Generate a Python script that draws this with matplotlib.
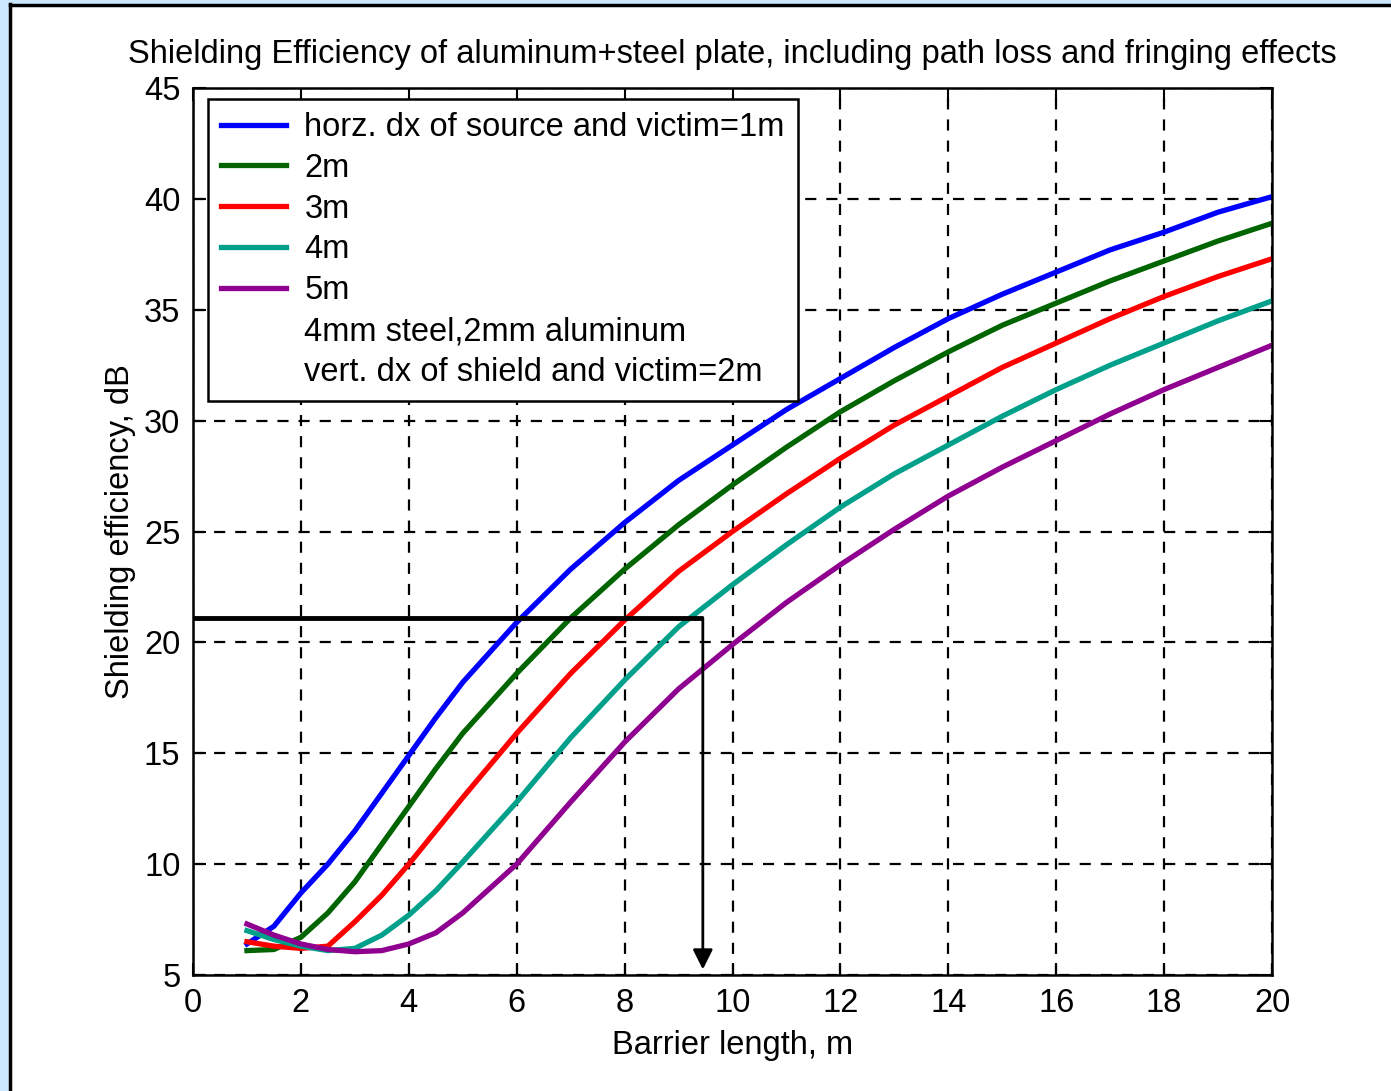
import matplotlib
matplotlib.use('Agg')
from matplotlib import pyplot as plt
from matplotlib.lines import Line2D
from matplotlib.patches import Rectangle

# Data
barrier_length = [1, 1.5, 2, 2.5, 3, 3.5, 4, 4.5, 5, 6, 7, 8, 9, 10,
                  11, 12, 13, 14, 15, 16, 17, 18, 19, 20]
se_1m = [6.4, 7.2, 8.7, 10.0, 11.5, 13.2, 14.9, 16.6, 18.2, 20.9, 23.3, 25.4, 27.3, 28.9,
         30.5, 31.9, 33.3, 34.6, 35.7, 36.7, 37.7, 38.5, 39.4, 40.1]
se_2m = [6.1, 6.15, 6.7, 7.8, 9.2, 10.9, 12.6, 14.3, 15.9, 18.6, 21.1, 23.3, 25.3, 27.1,
         28.8, 30.4, 31.8, 33.1, 34.3, 35.3, 36.3, 37.2, 38.1, 38.9]
se_3m = [6.5, 6.3, 6.2, 6.3, 7.4, 8.6, 10.0, 11.5, 13.0, 15.9, 18.6, 21.0, 23.2, 25.0,
         26.7, 28.3, 29.8, 31.1, 32.4, 33.5, 34.6, 35.6, 36.5, 37.3]
se_4m = [7.0, 6.6, 6.3, 6.1, 6.2, 6.8, 7.7, 8.8, 10.1, 12.8, 15.7, 18.3, 20.7, 22.6,
         24.4, 26.1, 27.6, 28.9, 30.2, 31.4, 32.5, 33.5, 34.5, 35.4]
se_5m = [7.3, 6.8, 6.4, 6.15, 6.05, 6.1, 6.4, 6.9, 7.8, 10.0, 12.8, 15.5, 17.9, 19.9,
         21.8, 23.5, 25.1, 26.6, 27.9, 29.1, 30.3, 31.4, 32.4, 33.4]

series = [se_1m, se_2m, se_3m, se_4m, se_5m]
labels = ['horz. dx of source and victim=1m', '2m', '3m', '4m', '5m']
colors = ['#0000ff', '#006400', '#ff0000', '#00a08a', '#900090']
notes = ['4mm steel,2mm aluminum', 'vert. dx of shield and victim=2m']

ref_se = 21.1      # target shielding efficiency
ref_length = 9.45  # barrier length read for it

FS = 23.5
plt.rcParams['font.family'] = ['Liberation Sans', 'DejaVu Sans']
plt.rcParams['font.size'] = FS

fig = plt.figure(figsize=(13.91, 10.91), dpi=100)
ax = fig.add_axes([193 / 1391, 1 - 975 / 1091, 1079 / 1391, 887 / 1091])

# light blue window border + black frame
fig.patches.append(Rectangle((0, 0), 8 / 1391, 1, transform=fig.transFigure,
                             color='#cce8ff', zorder=-1))
fig.patches.append(Rectangle((0, 1 - 3 / 1091), 1, 3 / 1091, transform=fig.transFigure,
                             color='#cce8ff', zorder=-1))
fig.lines.append(Line2D([9.5 / 1391, 9.5 / 1391], [0, 1 - 4 / 1091], transform=fig.transFigure,
                        color='black', lw=2.5))
fig.lines.append(Line2D([9.5 / 1391, 1], [1 - 4.5 / 1091, 1 - 4.5 / 1091], transform=fig.transFigure,
                        color='black', lw=2.5))

for y, lab, c in zip(series, labels, colors):
    ax.plot(barrier_length, y, color=c, lw=3.8, label=lab)

# reading lines
ax.plot([0, ref_length], [ref_se, ref_se], color='black', lw=3.5, solid_capstyle='butt')
ax.annotate('', xy=(ref_length, 5.25), xytext=(ref_length, ref_se),
            arrowprops=dict(arrowstyle='-|>', color='black', lw=2, mutation_scale=30,
                            shrinkA=0, shrinkB=0))

ax.set_xlim(0, 20)
ax.set_ylim(5, 45)
ax.set_xticks(range(0, 21, 2))
ax.set_yticks(range(5, 46, 5))
ax.grid(True, linestyle=(0, (5, 4.5)), color='black', lw=1.6)
ax.tick_params(direction='in', top=True, right=True, length=9, width=1.5, labelsize=FS, pad=9)
for s in ax.spines.values():
    s.set_linewidth(1.8)

ax.set_title('Shielding Efficiency of aluminum+steel plate, including path loss and fringing effects',
             fontsize=FS, pad=18)
ax.set_xlabel('Barrier length, m', fontsize=FS, labelpad=8)
ax.set_ylabel('Shielding efficiency, dB', fontsize=FS, labelpad=6)

handles, labs = ax.get_legend_handles_labels()
for n in notes:
    handles.append(Line2D([], [], color='none'))
    labs.append(n)
leg = ax.legend(handles, labs, loc='upper left', bbox_to_anchor=(0.0139, 0.9876),
                fancybox=False, framealpha=1, edgecolor='black', handlelength=2.0,
                handletextpad=0.55, labelspacing=0.3, borderpad=0.4, borderaxespad=0,
                fontsize=FS)
leg.get_frame().set_linewidth(1.8)

fig.savefig('out.png', dpi=100, facecolor='white')
